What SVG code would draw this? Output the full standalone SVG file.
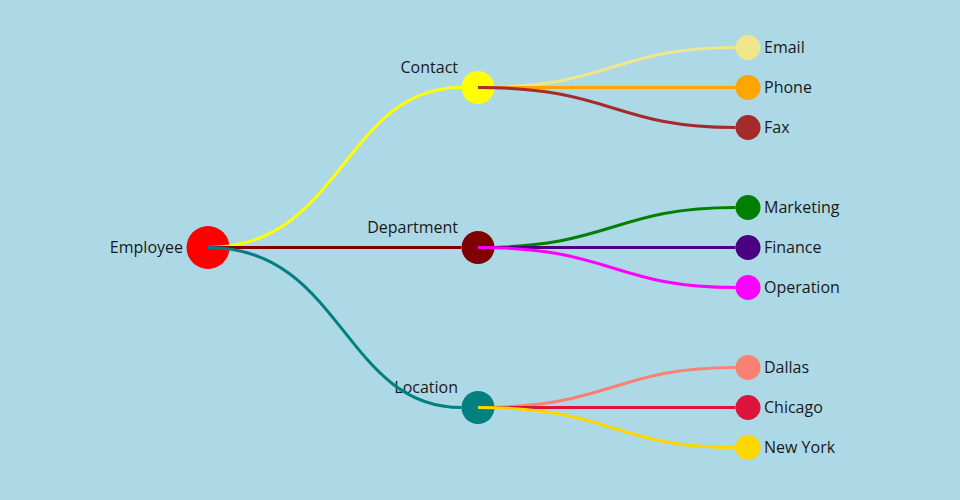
<svg xmlns="http://www.w3.org/2000/svg" width="960" height="500" viewBox="0 0 960 500">
<style>
text{font-family:"Open Sans","Noto Sans","Liberation Sans",sans-serif;font-size:16px;fill:#1a1a1a}
.l{text-anchor:end}
.link{fill:none;stroke-width:3}
</style>
<rect width="960" height="500" fill="#ADD8E6"/>
<g id="nodes">
<g id="employee"><circle cx="208" cy="247.5" r="21.5" fill="#FF0000"/><text class="l" x="183" y="253.1">Employee</text></g>
<g id="contact"><circle cx="478" cy="87.5" r="16.5" fill="#FFFF00"/><text class="l" x="458" y="73.1">Contact</text></g>
<g id="department"><circle cx="478" cy="247.5" r="16.5" fill="#800000"/><text class="l" x="458" y="233.1">Department</text></g>
<g id="location"><circle cx="478" cy="407.5" r="16.5" fill="#008080"/><text class="l" x="458" y="393.1">Location</text></g>
<g id="email"><circle cx="748" cy="47.5" r="12.5" fill="#F0E68C"/><text x="764" y="53.1">Email</text></g>
<g id="phone"><circle cx="748" cy="87.5" r="12.5" fill="#FFA500"/><text x="764" y="93.1">Phone</text></g>
<g id="fax"><circle cx="748" cy="127.5" r="12.5" fill="#A52A2A"/><text x="764" y="133.1">Fax</text></g>
<g id="marketing"><circle cx="748" cy="207.5" r="12.5" fill="#008000"/><text x="764" y="213.1">Marketing</text></g>
<g id="finance"><circle cx="748" cy="247.5" r="12.5" fill="#4B0082"/><text x="764" y="253.1">Finance</text></g>
<g id="operation"><circle cx="748" cy="287.5" r="12.5" fill="#FF00FF"/><text x="764" y="293.1">Operation</text></g>
<g id="dallas"><circle cx="748" cy="367.5" r="12.5" fill="#FA8072"/><text x="764" y="373.1">Dallas</text></g>
<g id="chicago"><circle cx="748" cy="407.5" r="12.5" fill="#DC143C"/><text x="764" y="413.1">Chicago</text></g>
<g id="newyork"><circle cx="748" cy="447.5" r="12.5" fill="#FFD700"/><text x="764" y="453.1">New York</text></g>
</g>
<g id="connectors">
<path class="link" stroke="#FFFF00" d="M208,247.5C343,247.5 343,87.5 461.5,87.5"/>
<path class="link" stroke="#800000" d="M208,247.5L461.5,247.5"/>
<path class="link" stroke="#008080" d="M208,247.5C343,247.5 343,407.5 461.5,407.5"/>
<path class="link" stroke="#F0E68C" d="M478,87.5C613,87.5 613,47.5 735.5,47.5"/>
<path class="link" stroke="#FFA500" d="M478,87.5L735.5,87.5"/>
<path class="link" stroke="#A52A2A" d="M478,87.5C613,87.5 613,127.5 735.5,127.5"/>
<path class="link" stroke="#008000" d="M478,247.5C613,247.5 613,207.5 735.5,207.5"/>
<path class="link" stroke="#4B0082" d="M478,247.5L735.5,247.5"/>
<path class="link" stroke="#FF00FF" d="M478,247.5C613,247.5 613,287.5 735.5,287.5"/>
<path class="link" stroke="#FA8072" d="M478,407.5C613,407.5 613,367.5 735.5,367.5"/>
<path class="link" stroke="#DC143C" d="M478,407.5L735.5,407.5"/>
<path class="link" stroke="#FFD700" d="M478,407.5C613,407.5 613,447.5 735.5,447.5"/>
</g>
</svg>
